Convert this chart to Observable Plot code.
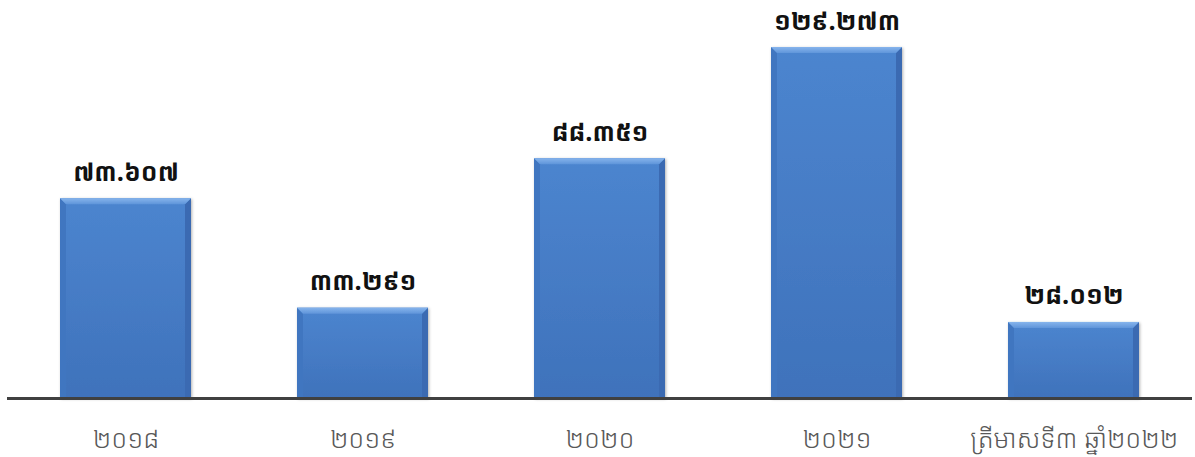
<!DOCTYPE html>
<html>
<head>
<meta charset="utf-8">
<script src="https://cdn.jsdelivr.net/npm/d3@7"></script>
<script src="https://cdn.jsdelivr.net/npm/@observablehq/plot@0.6"></script>
<style>
  html, body { margin: 0; padding: 0; background: #ffffff; }
  #chart svg { display: block; }
</style>
</head>
<body>
<div id="chart"></div>
<script>
// Periods shown on the horizontal axis
const periods = ["២០១៨", "២០១៩", "២០២០", "២០២១", "ត្រីមាសទី៣ ឆ្នាំ២០២២"];
// Values for each period
const amounts = [73.607, 33.291, 88.351, 129.273, 28.012];
// Value labels written with Khmer digits
const amountLabels = ["៧៣.៦០៧", "៣៣.២៩១", "៨៨.៣៥១", "១២៩.២៧៣", "២៨.០១២"];

const rows = periods.map((p, i) => ({ period: p, amount: amounts[i], label: amountLabels[i] }));

const khmerFont = "'Khmer OS', 'Khmer OS System', 'Noto Sans Khmer', 'Noto Serif Khmer', 'DejaVu Sans', sans-serif";

// Bevelled look: after Plot draws each bar, add a light top facet and shaded side facets
function bevel(index, scales, values, dimensions, context, next) {
  const g = next(index, scales, values, dimensions, context);
  const b = 6;
  d3.select(g).selectAll("rect").each(function () {
    const r = d3.select(this);
    const x = +r.attr("x"), y = +r.attr("y"), w = +r.attr("width"), h = +r.attr("height");
    const parent = d3.select(this.parentNode);
    parent.append("polygon")
      .attr("points", [[x, y], [x + b, y + b], [x + b, y + h], [x, y + h]].join(" "))
      .attr("fill", "#4076c0");
    parent.append("polygon")
      .attr("points", [[x + w, y], [x + w - b, y + b], [x + w - b, y + h], [x + w, y + h]].join(" "))
      .attr("fill", "#3a6bb2");
    parent.append("polygon")
      .attr("points", [[x, y], [x + w, y], [x + w - b, y + b], [x + b, y + b]].join(" "))
      .attr("fill", "url(#bevelTop)");
  });
  return g;
}

const chart = Plot.plot({
  width: 1195,
  height: 457,
  marginLeft: 7,
  marginRight: 3,
  marginTop: 18,
  marginBottom: 59,
  style: { fontFamily: khmerFont, background: "#ffffff" },
  x: { domain: periods, paddingInner: 0.447, paddingOuter: 0.2235, label: null, tickSize: 0, tickPadding: 31 },
  y: { domain: [0, 140], axis: null },
  marks: [
    () => {
      const defs = d3.create("svg:defs");
      const g = defs.append("linearGradient").attr("id", "barFill").attr("x1", 0).attr("y1", 0).attr("x2", 0).attr("y2", 1);
      g.append("stop").attr("offset", "0%").attr("stop-color", "#4c85cf");
      g.append("stop").attr("offset", "100%").attr("stop-color", "#3f72bb");
      const t = defs.append("linearGradient").attr("id", "bevelTop").attr("x1", 0).attr("y1", 0).attr("x2", 0).attr("y2", 1);
      t.append("stop").attr("offset", "0%").attr("stop-color", "#86b4ec");
      t.append("stop").attr("offset", "100%").attr("stop-color", "#5f95da");
      const f = defs.append("filter").attr("id", "barShadow").attr("x", "-10%").attr("y", "-10%").attr("width", "125%").attr("height", "125%");
      f.append("feDropShadow").attr("dx", 1).attr("dy", 1).attr("stdDeviation", 1.5).attr("flood-color", "#000").attr("flood-opacity", 0.3);
      return defs.node();
    },
    Plot.barY(rows, { x: "period", y: "amount", fill: "url(#barFill)", render: bevel }),
    Plot.ruleY([0], { stroke: "#404040", strokeWidth: 3 }),
    Plot.text(rows, {
      x: "period", y: "amount", text: "label", dy: -26,
      fontSize: 25, fontWeight: "bold", fill: "#111111"
    })
  ]
});

d3.select(chart).select("[aria-label='bar']").attr("filter", "url(#barShadow)");

d3.select(chart).selectAll("[aria-label='x-axis tick label'] text")
  .style("font-size", "26px").style("font-weight", "300").attr("fill", "#595959");

document.getElementById("chart").appendChild(chart);
</script>
</body>
</html>
